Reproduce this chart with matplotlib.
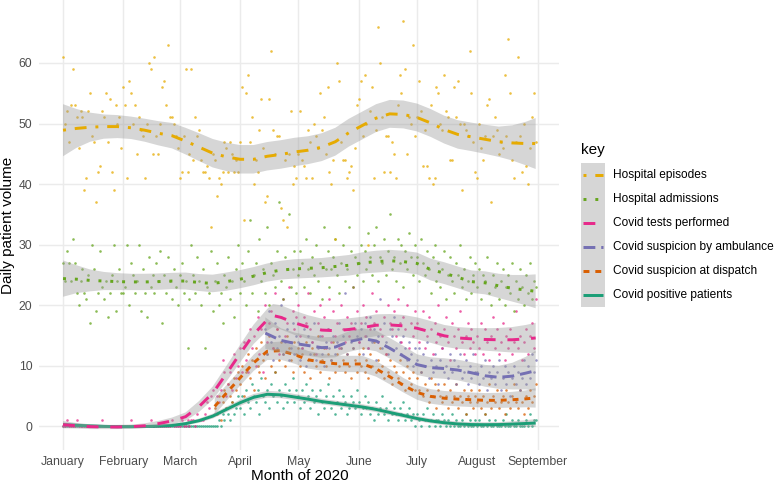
import numpy as np
import matplotlib
matplotlib.use("Agg")
import matplotlib.pyplot as plt
from matplotlib.lines import Line2D
from matplotlib.patches import Rectangle

plt.rcParams['font.family'] = ['Liberation Sans', 'DejaVu Sans']

# ---------------- data ----------------
month_labels = ["January", "February", "March", "April", "May", "June",
                "July", "August", "September"]
month_start_days = [0, 31, 60, 91, 121, 152, 182, 213, 244]   # days since 1 Jan 2020
y_ticks = [0, 10, 20, 30, 40, 50, 60]

# legend order (top to bottom)
series_names = ["Hospital episodes", "Hospital admissions", "Covid tests performed",
                "Covid suspicion by ambulance", "Covid suspicion at dispatch",
                "Covid positive patients"]
series_colors = ["#E6AB02", "#66A61E", "#E7298A", "#7570B3", "#D95F02", "#1B9E77"]

# daily counts (first value = start day)
episodes_start = 0
episodes_daily = [
    61, 50, 52, 47, 53, 59, 53, 51, 46, 52, 51, 39, 41, 52, 55, 48, 47, 37, 42, 43, 52, 51, 55, 47, 54, 42, 39, 53, 50, 51, 46,
    56, 53, 41, 57, 55, 50, 53, 45, 51, 49, 48, 41, 50, 60, 59, 45, 61, 48, 45, 50, 56, 57, 53, 63, 51, 51, 50, 48, 46,
    41, 42, 48, 59, 42, 45, 59, 44, 51, 48, 49, 44, 42, 42, 43, 41, 33, 45, 44, 38, 41, 40, 42, 47, 46, 42, 47, 45, 42, 44, 42,
    47, 56, 34, 55, 58, 47, 51, 40, 44, 42, 49, 54, 46, 37, 38, 54, 62, 49, 45, 48, 48, 36, 34, 44, 33, 45, 52, 40, 43, 41,
    45, 52, 44, 43, 41, 49, 47, 41, 50, 48, 46, 55, 49, 51, 45, 56, 42, 40, 44, 31, 60, 57, 47, 44, 44, 41, 42, 43, 39, 46, 53,
    54, 57, 48, 58, 50, 30, 52, 56, 41, 49, 66, 60, 51, 42, 48, 48, 42, 47, 45, 41, 53, 58, 55, 67, 59, 45, 51, 50, 63, 48,
    51, 57, 52, 43, 49, 43, 41, 53, 40, 41, 56, 55, 50, 49, 58, 52, 51, 44, 44, 56, 51, 57, 50, 39, 50, 49, 48, 62, 55, 47, 42,
    41, 50, 46, 44, 48, 53, 54, 37, 48, 51, 49, 45, 47, 46, 58, 48, 64, 55, 44, 41, 47, 61, 48, 42, 50, 43, 40, 46, 51, 55, 47]

admissions_start = 0
admissions_daily = [
    27, 24, 29, 27, 24, 31, 27, 22, 20, 24, 26, 22, 21, 25, 17, 30, 26, 19, 22, 29, 23, 21, 24, 18, 22, 25, 30, 19, 24, 26, 22,
    22, 23, 30, 20, 27, 25, 22, 24, 30, 19, 26, 22, 18, 28, 23, 25, 22, 27, 24, 29, 17, 25, 22, 28, 24, 21, 26, 23, 20,
    25, 27, 22, 24, 13, 21, 30, 25, 22, 28, 24, 20, 26, 13, 23, 22, 29, 19, 24, 27, 20, 22, 17, 25, 23, 28, 21, 24, 18, 26, 30,
    22, 27, 24, 20, 29, 34, 22, 25, 27, 19, 31, 24, 26, 22, 33, 20, 27, 25, 23, 29, 37, 24, 21, 28, 26, 35, 23, 26, 29, 22,
    25, 29, 27, 23, 31, 26, 22, 28, 25, 30, 24, 27, 21, 33, 26, 29, 23, 26, 28, 31, 25, 22, 27, 30, 24, 26, 33, 29, 23, 28, 25,
    27, 30, 24, 29, 26, 32, 28, 25, 30, 33, 24, 28, 27, 31, 25, 29, 35, 26, 28, 24, 31, 27, 30, 23, 29, 26, 32, 28, 25, 30,
    28, 24, 31, 27, 25, 29, 26, 22, 28, 30, 24, 27, 23, 26, 29, 21, 25, 28, 24, 22, 27, 25, 30, 23, 26, 21, 24, 28, 22, 25, 27,
    23, 26, 21, 25, 24, 28, 22, 20, 25, 23, 27, 21, 24, 26, 20, 23, 25, 22, 27, 19, 24, 21, 26, 23, 20, 25, 22, 27, 21, 24, 23]

tests_start = 0
tests_daily = [
    0, 0, 1, 0, 0, 0, 0, 1, 0, 0, 0, 0, 0, 0, 0, 0, 0, 0, 0, 0, 1, 0, 0, 0, 0, 0, 0, 0, 0, 0, 0,
    0, 0, 0, 0, 1, 0, 0, 0, 0, 0, 0, 0, 0, 0, 1, 0, 0, 0, 0, 0, 0, 0, 0, 0, 0, 1, 0, 0, 0,
    0, 1, 0, 0, 1, 0, 1, 1, 0, 2, 1, 1, 1, 2, 4, 3, 5, 6, 2, 5, 4, 6, 11, 9, 5, 7, 9, 6, 12, 8, 10,
    13, 9, 14, 11, 9, 16, 13, 15, 10, 18, 12, 16, 9, 20, 14, 17, 19, 13, 22, 16, 12, 18, 21, 15, 17, 23, 14, 19, 16, 18,
    20, 15, 13, 18, 17, 22, 16, 14, 19, 12, 17, 20, 15, 18, 13, 16, 21, 14, 19, 15, 17, 13, 20, 16, 14, 18, 15, 17, 23, 16, 19,
    14, 17, 20, 15, 18, 13, 16, 22, 17, 19, 14, 16, 15, 18, 12, 20, 17, 16, 19, 15, 21, 17, 14, 18, 16, 20, 13, 17, 15, 19,
    17, 14, 16, 19, 13, 15, 18, 16, 12, 17, 14, 20, 15, 13, 16, 18, 14, 11, 17, 15, 13, 16, 19, 14, 12, 15, 17, 13, 16, 14, 12,
    15, 13, 17, 12, 16, 14, 11, 15, 18, 13, 16, 12, 14, 17, 11, 15, 13, 16, 12, 14, 19, 13, 15, 11, 14, 16, 12, 15, 17, 13, 21]

ambulance_start = 104   # 14 April
ambulance_daily = [
    16, 12, 19, 14, 11, 17, 13, 15, 20, 12, 14, 16, 11, 13, 17, 12, 15,
    14, 11, 13, 16, 10, 15, 12, 14, 17, 11, 13, 15, 12, 10, 14, 16, 13, 11, 15, 12, 14, 17, 13, 15, 22, 12, 16, 14, 13, 17, 15,
    14, 16, 12, 17, 15, 13, 18, 14, 16, 11, 15, 21, 13, 17, 14, 12, 16, 15, 18, 13, 16, 14, 12, 15, 13, 11, 14, 12, 10, 13,
    11, 13, 9, 12, 10, 14, 8, 11, 9, 12, 10, 7, 11, 13, 9, 10, 8, 12, 9, 11, 7, 10, 12, 8, 9, 11, 7, 10, 8, 12, 9,
    9, 7, 10, 8, 11, 6, 9, 8, 10, 7, 9, 11, 6, 8, 10, 7, 9, 5, 8, 10, 7, 9, 6, 8, 11, 7, 10, 8, 12, 9, 11]

dispatch_start = 78     # 19 March
dispatch_daily = [
    3, 2, 5, 1, 4, 6, 3, 7, 5, 4, 8, 6, 9,
    7, 10, 5, 9, 12, 8, 11, 6, 13, 10, 9, 14, 11, 8, 12, 15, 10, 13, 9, 16, 11, 14, 12, 10, 15, 13, 11, 9, 14, 12,
    13, 10, 12, 9, 14, 11, 8, 13, 12, 10, 15, 9, 11, 13, 10, 12, 8, 11, 14, 9, 12, 10, 13, 11, 9, 12, 10, 8, 13, 11, 9,
    12, 10, 13, 9, 11, 8, 12, 10, 14, 9, 11, 13, 10, 8, 12, 9, 11, 7, 10, 9, 8, 11, 7, 9, 6, 10, 8, 7, 9, 6,
    8, 6, 9, 5, 7, 6, 4, 8, 5, 7, 3, 6, 5, 4, 7, 5, 3, 6, 4, 5, 7, 3, 5, 4, 6, 2, 5, 4, 6, 3, 5,
    4, 6, 3, 5, 2, 4, 7, 3, 5, 4, 6, 3, 4, 5, 2, 6, 4, 3, 5, 7, 4, 3, 6, 4, 2, 5, 3, 6, 4, 5, 7]

positive_start = 0
positive_daily = [
    0, 0, 0, 0, 0, 0, 0, 0, 0, 0, 0, 0, 0, 0, 0, 0, 0, 0, 0, 0, 0, 0, 0, 0, 0, 0, 0, 0, 0, 0, 0,
    0, 0, 0, 0, 0, 0, 0, 0, 0, 0, 0, 0, 0, 0, 0, 0, 0, 0, 0, 0, 0, 0, 0, 0, 0, 0, 0, 0, 0,
    0, 0, 0, 0, 0, 0, 0, 0, 0, 0, 0, 0, 0, 0, 0, 0, 0, 0, 0, 0, 1, 0, 2, 1, 3, 2, 1, 4, 2, 3, 5,
    3, 5, 2, 6, 4, 3, 7, 5, 4, 6, 2, 8, 5, 4, 6, 3, 7, 5, 9, 4, 6, 5, 3, 7, 4, 6, 5, 8, 4, 6,
    5, 3, 6, 4, 7, 5, 3, 6, 4, 5, 2, 6, 4, 3, 5, 7, 4, 3, 5, 2, 4, 6, 3, 5, 4, 2, 3, 5, 4, 3, 6,
    4, 2, 3, 5, 3, 4, 2, 3, 1, 4, 2, 3, 5, 2, 3, 1, 4, 2, 3, 2, 1, 3, 2, 4, 1, 2, 3, 1, 2, 0,
    2, 1, 0, 2, 1, 3, 0, 1, 2, 0, 1, 1, 0, 2, 1, 0, 1, 0, 2, 0, 1, 0, 0, 1, 0, 2, 0, 1, 0, 0, 1,
    0, 1, 0, 0, 2, 0, 1, 0, 0, 1, 0, 0, 0, 1, 0, 2, 0, 0, 1, 0, 0, 1, 0, 0, 0, 1, 0, 2, 0, 1, 1]

# smoothed trend (loess fit) and half-width of its confidence band, read at given days
smooth_days = [0, 7, 14, 21, 28, 35, 42, 49, 56, 63, 70, 77, 84, 91, 98, 105, 112, 119, 126,
               133, 140, 147, 154, 161, 168, 175, 182, 189, 196, 203, 210, 217, 224, 231, 238, 243]
episodes_fit = [48.9, 49.2, 49.4, 49.5, 49.5, 49.3, 48.9, 48.4, 48.0, 47.1, 46.1, 45.1, 44.5, 44.1,
                44.1, 44.6, 44.9, 45.3, 45.6, 46.1, 47.0, 48.5, 49.7, 50.9, 51.6, 51.5, 51.0, 50.1,
                49.0, 48.2, 47.8, 47.4, 47.0, 46.8, 46.7, 46.7]
episodes_se = [4.3, 3.2, 2.4, 2.0, 1.9, 1.85, 1.9, 2.0, 2.1, 2.2, 2.3, 2.35, 2.35, 2.35, 2.35, 2.35,
               2.35, 2.35, 2.3, 2.3, 2.3, 2.3, 2.3, 2.3, 2.3, 2.3, 2.3, 2.3, 2.3, 2.35, 2.35, 2.4,
               2.5, 2.9, 3.6, 4.2]
admissions_fit = [24.4, 24.3, 24.1, 24.0, 23.9, 23.85, 23.85, 23.9, 24.0, 24.0, 23.75, 23.6, 23.9,
                  24.3, 24.8, 25.4, 25.8, 26.0, 26.1, 26.2, 26.4, 26.6, 27.0, 27.2, 27.35, 27.2,
                  26.9, 25.9, 25.3, 24.6, 23.9, 23.7, 23.2, 22.8, 22.5, 22.3]
admissions_se = [3.0, 2.3, 1.8, 1.5, 1.4, 1.35, 1.35, 1.35, 1.35, 1.4, 1.4, 1.45, 1.5, 1.5, 1.5,
                 1.5, 1.55, 1.6, 1.6, 1.6, 1.65, 1.7, 1.75, 1.8, 1.8, 1.8, 1.8, 1.8, 1.8, 1.8,
                 1.85, 1.9, 2.0, 2.2, 2.5, 2.8]
tests_days = [0, 7, 14, 21, 28, 35, 42, 49, 56, 63, 70, 77, 84, 91, 98, 105, 108, 112, 119, 126,
              133, 140, 147, 154, 161, 168, 175, 182, 189, 196, 203, 210, 217, 224, 231, 238, 243]
tests_fit = [0.28, 0.1, -0.05, -0.1, -0.1, -0.05, 0.1, 0.45, 0.9, 1.6, 3.3, 5.5, 8.7, 12.0, 15.2,
             17.6, 18.3, 18.0, 17.1, 16.4, 15.9, 15.8, 16.0, 16.3, 16.7, 16.75, 16.6, 16.2, 15.6,
             14.95, 14.6, 14.45, 14.35, 14.3, 14.3, 14.45, 14.6]
tests_se = [0.6, 0.45, 0.4, 0.35, 0.35, 0.35, 0.4, 0.45, 0.55, 0.7, 0.9, 1.1, 1.3, 1.45, 1.6, 1.8,
            1.9, 2.0, 2.0, 1.95, 1.9, 1.85, 1.85, 1.8, 1.8, 1.8, 1.8, 1.8, 1.8, 1.8, 1.8, 1.8,
            1.85, 1.95, 2.1, 2.3, 2.5]
ambulance_days = [104, 112, 119, 126, 133, 140, 147, 154, 161, 168, 175, 182, 189, 196, 203, 210,
                  217, 224, 231, 238, 243]
ambulance_fit = [15.4, 14.2, 13.7, 13.35, 13.0, 13.1, 14.0, 14.5, 14.1, 12.9, 11.6, 10.2, 9.7,
                 9.55, 9.3, 8.85, 8.35, 8.1, 8.3, 8.8, 9.2]
ambulance_se = [2.6, 2.0, 1.8, 1.7, 1.7, 1.7, 1.7, 1.7, 1.7, 1.7, 1.7, 1.7, 1.7, 1.7, 1.7, 1.75,
                1.8, 1.9, 2.2, 2.7, 3.3]
dispatch_days = [78, 84, 91, 98, 105, 112, 119, 126, 133, 140, 147, 154, 161, 168, 175, 182, 189,
                 196, 203, 210, 217, 224, 231, 238, 243]
dispatch_fit = [3.3, 5.5, 8.0, 10.5, 12.4, 12.5, 11.85, 11.0, 10.6, 10.35, 10.3, 10.3, 9.5, 8.2,
                6.8, 5.6, 4.95, 4.65, 4.5, 4.4, 4.3, 4.3, 4.4, 4.55, 4.7]
dispatch_se = [1.4, 1.3, 1.3, 1.35, 1.45, 1.5, 1.5, 1.45, 1.4, 1.35, 1.35, 1.35, 1.3, 1.25, 1.2,
               1.2, 1.2, 1.2, 1.2, 1.2, 1.2, 1.25, 1.3, 1.4, 1.6]
positive_fit = [0.28, 0.18, 0.08, 0.0, -0.05, -0.05, -0.02, 0.05, 0.15, 0.45, 0.95, 1.7, 2.8, 3.9,
                4.8, 5.3, 5.2, 4.85, 4.5, 4.1, 3.8, 3.5, 3.2, 2.8, 2.3, 1.8, 1.3, 0.9, 0.6, 0.4,
                0.3, 0.28, 0.3, 0.38, 0.48, 0.55]
positive_se = [0.35, 0.3, 0.25, 0.25, 0.25, 0.25, 0.25, 0.25, 0.28, 0.3, 0.35, 0.4, 0.45, 0.5,
               0.55, 0.55, 0.55, 0.5, 0.5, 0.45, 0.45, 0.45, 0.45, 0.45, 0.45, 0.4, 0.4, 0.4, 0.4,
               0.4, 0.4, 0.4, 0.4, 0.45, 0.55, 0.65]

# ---------------- styling ----------------
LW = 2.13
dash_styles = {
    "Hospital episodes": (0, (1, 3, 4, 3)),
    "Hospital admissions": (0, (1, 3)),
    "Covid tests performed": (0, (4, 4)),
    "Covid suspicion by ambulance": (0, (4, 2)),
    "Covid suspicion at dispatch": (0, (2, 2)),
    "Covid positive patients": "-",
}

series = {
    "Hospital episodes": (episodes_start, episodes_daily, smooth_days, episodes_fit, episodes_se),
    "Hospital admissions": (admissions_start, admissions_daily, smooth_days, admissions_fit, admissions_se),
    "Covid tests performed": (tests_start, tests_daily, tests_days, tests_fit, tests_se),
    "Covid suspicion by ambulance": (ambulance_start, ambulance_daily, ambulance_days, ambulance_fit, ambulance_se),
    "Covid suspicion at dispatch": (dispatch_start, dispatch_daily, dispatch_days, dispatch_fit, dispatch_se),
    "Covid positive patients": (positive_start, positive_daily, smooth_days, positive_fit, positive_se),
}
color_of = dict(zip(series_names, series_colors))

W, H = 778, 483
fig = plt.figure(figsize=(W / 100, H / 100), dpi=100)
px_left, px_right, px_top, px_bottom = 39.4, 559.3, 0.0, 450.0
ax = fig.add_axes([px_left / W, 1 - px_bottom / H, (px_right - px_left) / W, (px_bottom - px_top) / H])
ax.set_xlim(-12.15, 255.15)
ax.set_ylim(-3.9, 70.4)

ax.set_axisbelow(True)
ax.grid(True, color="#EBEBEB", linewidth=1.07)
for sp in ax.spines.values():
    sp.set_visible(False)
ax.set_xticks(month_start_days)
ax.set_xticklabels(month_labels)
ax.set_yticks(y_ticks)
ax.tick_params(axis="both", length=0, labelsize=8.8, labelcolor="#4D4D4D")
ax.tick_params(axis="x", pad=4.0)
ax.tick_params(axis="y", pad=5)
ax.set_xlabel("Month of 2020", fontsize=11, color="black", labelpad=1.0)
ax.set_ylabel("Daily patient volume", fontsize=11, color="black", labelpad=3)

# points (drawn first)
draw_order = list(reversed(series_names))
for name in draw_order:
    start, daily, _, _, _ = series[name]
    days = start + np.arange(len(daily))
    ax.scatter(days, daily, s=3.5, color=color_of[name], alpha=0.75, linewidths=0, zorder=2)

# smooth ribbons + lines, one group at a time
for name in draw_order:
    _, _, kd, fit, se = series[name]
    kd = np.array(kd, float)
    fit = np.array(fit, float)
    se = np.array(se, float)
    ax.fill_between(kd, fit - se, fit + se, facecolor="#999999", alpha=0.4, linewidth=0, zorder=3)
    ax.plot(kd, fit, color=color_of[name], linewidth=LW, linestyle=dash_styles[name],
            solid_capstyle="butt", dash_capstyle="butt", solid_joinstyle="round", zorder=3)

# ---------------- legend (ggplot-like) ----------------
def fx(px):
    return px / W

def fy(py):
    return 1 - py / H

fig.text(fx(581.5), fy(150), "key", fontsize=11, color="black", ha="left", va="center")
key_top, key_h, key_x0, key_w = 163.3, 24.0, 581.0, 24.0
fig.add_artist(Rectangle((fx(key_x0), fy(key_top + key_h * len(series_names))),
                         key_w / W, key_h * len(series_names) / H,
                         transform=fig.transFigure, facecolor="#999999", alpha=0.4,
                         edgecolor="none"))
for i, name in enumerate(series_names):
    yc = key_top + key_h * (i + 0.5)
    fig.add_artist(Line2D([fx(key_x0 + 2.4), fx(key_x0 + key_w - 2.4)], [fy(yc), fy(yc)],
                          transform=fig.transFigure, color=color_of[name], linewidth=LW,
                          linestyle=dash_styles[name], solid_capstyle="butt",
                          dash_capstyle="butt"))
    fig.text(fx(613), fy(yc), name, fontsize=8.6, color="black", ha="left", va="center")

fig.savefig("out.png", dpi=100, facecolor="white")
